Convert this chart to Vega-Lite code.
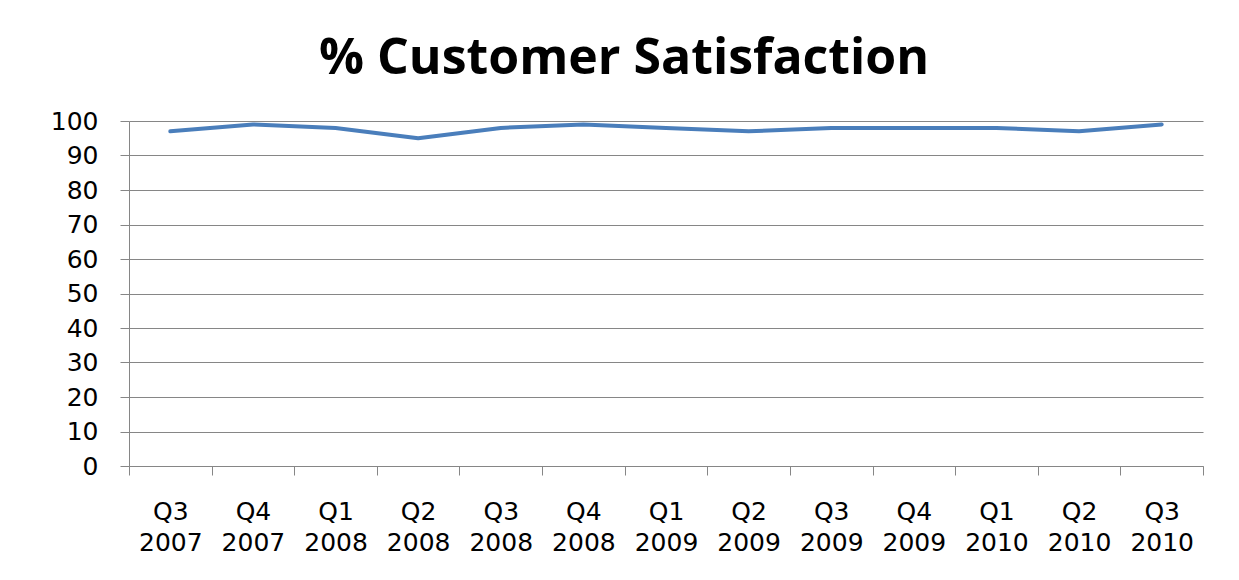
{
  "$schema": "https://vega.github.io/schema/vega-lite/v6.json",
  "width": 1074,
  "height": 345,
  "autosize": {"type": "none"},
  "padding": {"left": 129, "top": 121, "right": 36, "bottom": 114},
  "background": "white",
  "title": {
    "text": "% Customer Satisfaction",
    "font": "Open Sans",
    "fontSize": 50,
    "fontWeight": "bold",
    "color": "black",
    "anchor": "middle",
    "dx": -42,
    "baseline": "alphabetic",
    "offset": -15
  },
  "data": {
    "values": [
      {"quarter": "Q3 2007", "pct": 97},
      {"quarter": "Q4 2007", "pct": 99},
      {"quarter": "Q1 2008", "pct": 98},
      {"quarter": "Q2 2008", "pct": 95},
      {"quarter": "Q3 2008", "pct": 98},
      {"quarter": "Q4 2008", "pct": 99},
      {"quarter": "Q1 2009", "pct": 98},
      {"quarter": "Q2 2009", "pct": 97},
      {"quarter": "Q3 2009", "pct": 98},
      {"quarter": "Q4 2009", "pct": 98},
      {"quarter": "Q1 2010", "pct": 98},
      {"quarter": "Q2 2010", "pct": 97},
      {"quarter": "Q3 2010", "pct": 99}
    ]
  },
  "mark": {"type": "line", "color": "#4a7ebb", "strokeWidth": 4, "strokeCap": "round", "strokeJoin": "round"},
  "encoding": {
    "x": {
      "field": "quarter",
      "type": "ordinal",
      "sort": null,
      "bandPosition": 0.5,
      "scale": {"type": "band", "paddingInner": 0, "paddingOuter": 0},
      "axis": {
        "title": null,
        "labelAngle": 0,
        "labelExpr": "datum.value ? split(datum.value, ' ') : ''",
        "labelFont": "DejaVu Sans",
        "labelFontSize": 25,
        "labelColor": "black",
        "labelLineHeight": 31,
        "labelPadding": 24,
        "labelBaseline": "top",
        "tickBand": "extent",
        "tickSize": 9,
        "tickColor": "#868686",
        "domainColor": "#868686",
        "grid": false
      }
    },
    "y": {
      "field": "pct",
      "type": "quantitative",
      "scale": {"domain": [0, 100], "nice": false},
      "axis": {
        "title": null,
        "values": [0, 10, 20, 30, 40, 50, 60, 70, 80, 90, 100],
        "labelFont": "DejaVu Sans",
        "labelFontSize": 25,
        "labelColor": "black",
        "labelPadding": 22,
        "tickSize": 9,
        "tickColor": "#868686",
        "domainColor": "#868686",
        "gridColor": "#868686",
        "gridOpacity": 1
      }
    }
  },
  "config": {"view": {"stroke": null}}
}
